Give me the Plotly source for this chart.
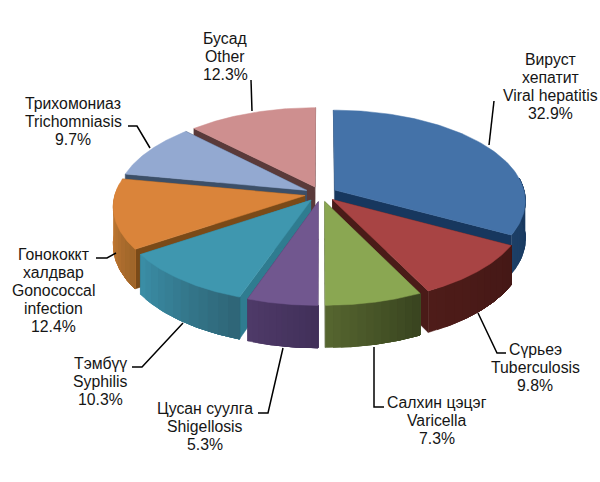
import numpy as np
import plotly.graph_objects as go

# Data
names = [["Вируст", "хепатит", "Viral hepatitis"], ["Сүрьеэ", "Tuberculosis"], ["Салхин цэцэг", "Varicella"],
         ["Цусан суулга", "Shigellosis"], ["Тэмбүү", "Syphilis"], ["Гонококкт", "халдвар", "Gonococcal", "infection"],
         ["Трихомониаз", "Trichomniasis"], ["Бусад", "Other"]]
values = [32.9, 9.8, 7.3, 5.3, 10.3, 12.4, 9.7, 12.3]

top_colors = ["#4472A8", "#A84444", "#8AA752", "#71578F", "#3F97AF", "#DA843A", "#93A9D1", "#CE8F8F"]
outer_from = ["#1D3F66", "#4E1C19", "#55652F", "#4E3A68", "#3A8DA5", "#D88438", "#5F7290", "#6D4A4A"]
outer_to = ["#17375E", "#451816", "#3A4520", "#42305A", "#2F6678", "#A0662A", "#5F7290", "#6D4A4A"]
radial_colors = ["#17375E", "#4A1B18", "#3F4A22", "#4A3560", "#2F7C90", "#7A4A18", "#3C4F68", "#5A3A3A"]

# Projection settings
CX, CY = 321, 194
RX, RY = 190, 90
PERSP = 0.115
PULL = 0.085
DEPTH = 37
STRIPS = 12


def project(X, Y):
    s = 1 / (1 - PERSP * Y)
    return CX + RX * X * s, CY + RY * Y * s, s


fig = go.Figure()


def poly(xs, ys, color):
    fig.add_trace(go.Scatter(x=list(xs), y=list(ys), mode="lines", fill="toself", fillcolor=color,
                             line=dict(color=color, width=0.5), hoverinfo="skip", showlegend=False))


def hex_mix(a, b, t):
    ca = [int(a[i:i + 2], 16) for i in (1, 3, 5)]
    cb = [int(b[i:i + 2], 16) for i in (1, 3, 5)]
    return "#%02x%02x%02x" % tuple(round(p + (q - p) * t) for p, q in zip(ca, cb))


cum = np.cumsum([0] + values)
slices = []
for i, v in enumerate(values):
    a0 = np.radians(cum[i] * 3.6)
    a1 = np.radians(cum[i + 1] * 3.6)
    mid = (a0 + a1) / 2
    px, py = PULL * np.sin(mid), -PULL * np.cos(mid)
    th = np.linspace(a0, a1, 90)
    X = px + np.sin(th)
    Y = py - np.cos(th)
    slices.append((py - np.cos(mid), i, X, Y, px, py, th))

for _, i, X, Y, px, py, th in sorted(slices, key=lambda s: s[0]):
    ax, ay, sa = project(px, py)
    ox, oy, os_ = project(X, Y)
    bot = oy + DEPTH * os_
    # radial walls
    for k in (0, -1):
        poly([ax, ox[k], ox[k], ax], [ay, oy[k], bot[k], ay + DEPTH * sa], radial_colors[i])
    # outer wall: the front-facing stretch only, walked from the left so that
    # overlapping strips give the shading without seams
    front = (th >= np.radians(82)) & (th <= np.radians(278))
    if front.sum() > 1:
        xo, yo, bo = ox[front][::-1], oy[front][::-1], bot[front][::-1]
        idx = np.linspace(0, len(xo) - 1, STRIPS + 1).astype(int)
        for j in range(STRIPS):
            a = idx[j]
            xs = np.r_[xo[a:], xo[a:][::-1]]
            ys = np.r_[yo[a:], bo[a:][::-1]]
            poly(xs, ys, hex_mix(outer_from[i], outer_to[i], j / (STRIPS - 1)))
    # top face
    poly(np.r_[ax, ox, ax], np.r_[ay, oy, ay], top_colors[i])

# Leader lines (from slice to label)
leaders_x = [[489, 494], [478, 497, 506], [374, 374, 384], [283, 268, 258],
             [183, 142, 132], [116, 107, 96], [150, 137, 128], [252, 251]]
leaders_y = [[145, 101], [313, 353, 353], [347, 407, 407], [348, 413, 413],
             [323, 367, 367], [253, 258, 258], [148, 126, 126], [111, 80]]
for lx, ly in zip(leaders_x, leaders_y):
    fig.add_trace(go.Scatter(x=lx, y=ly, mode="lines", line=dict(color="#000000", width=1.5),
                             hoverinfo="skip", showlegend=False))

label_x = [550, 535, 437, 205, 100, 53, 73, 225]
label_y = [59, 349, 402, 408, 363, 254, 103, 38]
LINE = 18
for name, v, lx, ly in zip(names, values, label_x, label_y):
    for k, line in enumerate(name + [f"{v}%"]):
        fig.add_annotation(x=lx, y=ly + k * LINE, text=line, showarrow=False, xanchor="center", yanchor="middle",
                           font=dict(family="Liberation Sans", size=15.8, color="#151515"), align="center")

fig.update_layout(width=600, height=482, margin=dict(l=0, r=0, t=0, b=0), paper_bgcolor="white", plot_bgcolor="white",
                  showlegend=False,
                  xaxis=dict(range=[0, 600], visible=False, fixedrange=True),
                  yaxis=dict(range=[482, 0], visible=False, fixedrange=True))
fig.write_html("out.html", config=dict(displayModeBar=False),
               post_script="document.body.style.margin='0';document.body.style.overflow='hidden';")
